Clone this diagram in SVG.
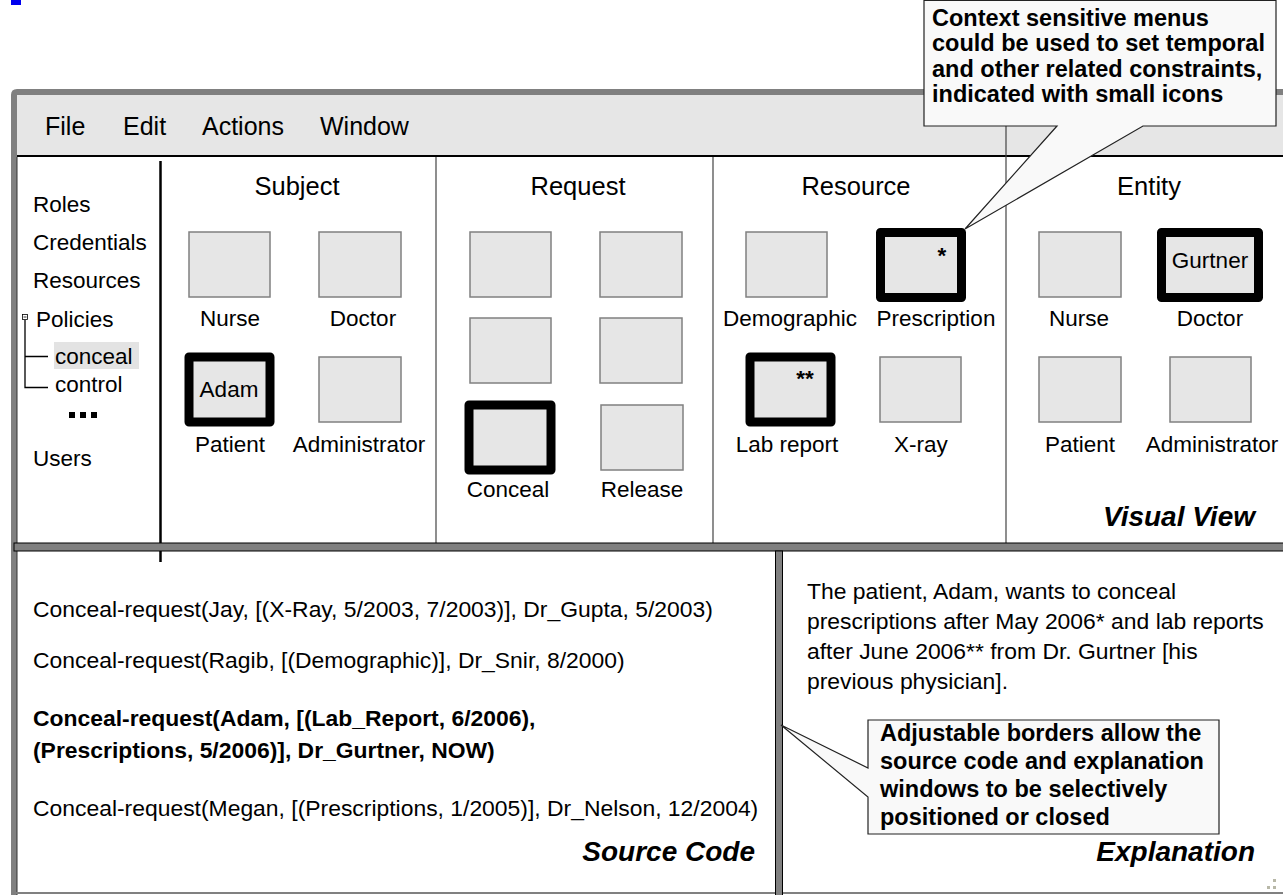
<svg xmlns="http://www.w3.org/2000/svg" width="1283" height="895" viewBox="0 0 1283 895">
  <style>
    text { font-family: "Liberation Sans", Arial, sans-serif; fill: #000; }
    .menu { font-size: 25px; }
    .side { font-size: 22.5px; }
    .head { font-size: 25.5px; text-anchor: middle; }
    .lbl { font-size: 22.5px; text-anchor: middle; }
    .code { font-size: 22.9px; }
    .bold { font-weight: bold; }
    .pane { font-size: 28px; font-weight: bold; font-style: italic; text-anchor: end; }
    .note { font-size: 23.5px; font-weight: bold; }
    .box { fill: #e6e6e6; stroke: #808080; stroke-width: 1.5; }
    .sel { fill: #e6e6e6; stroke: #000; stroke-width: 9; stroke-linejoin: round; }
    .col { stroke: #444; stroke-width: 1.2; }
    .bar { fill: #808080; stroke: #000; stroke-width: 1; }
    .callout { fill: #f9f9f9; stroke: #222; stroke-width: 1.2; }
  </style>

  <rect width="1283" height="895" fill="#fff"/>
  <rect x="11" y="0" width="10" height="5" fill="#0000ee"/>

  <!-- application window frame -->
  <g id="window">
    <path d="M11,895 V95 Q11,89 17,89 H1283 V95 H17 V895 Z" fill="#808080"/>
    <line x1="17" y1="157" x2="17" y2="895" stroke="#333" stroke-width="1"/>
    <rect x="11" y="892" width="1272" height="2" fill="#808080"/>
    <rect x="17" y="95" width="1266" height="60" fill="#e6e6e6"/>
    <rect x="17" y="155" width="1266" height="2" fill="#000"/>
  </g>

  <g id="menu">
    <text class="menu" x="45" y="135">File</text>
    <text class="menu" x="123" y="135">Edit</text>
    <text class="menu" x="202" y="135">Actions</text>
    <text class="menu" x="320" y="135">Window</text>
  </g>

  <!-- pane dividers -->
  <g id="dividers">
    <line x1="160.5" y1="161" x2="160.5" y2="562" stroke="#000" stroke-width="2.5"/>
    <line class="col" x1="436" y1="157" x2="436" y2="543"/>
    <line class="col" x1="713" y1="157" x2="713" y2="543"/>
    <line class="col" x1="1006" y1="95" x2="1006" y2="543"/>
    <rect class="bar" x="14" y="543" width="1275" height="8"/>
    <rect class="bar" x="775.5" y="551" width="7" height="350"/>
  </g>

  <!-- navigation tree -->
  <g id="tree">
    <text class="side" x="33" y="212">Roles</text>
    <text class="side" x="33" y="250">Credentials</text>
    <text class="side" x="33" y="288">Resources</text>
    <rect x="22.5" y="314.5" width="5" height="5" fill="#fff" stroke="#000" stroke-width="0.8"/>
    <line x1="23.5" y1="317" x2="26.5" y2="317" stroke="#000" stroke-width="0.8"/>
    <text class="side" x="36" y="327">Policies</text>
    <path d="M25,320 V387.5 H48 M25,356.5 H48" fill="none" stroke="#000" stroke-width="1.3"/>
    <rect x="54" y="342" width="85" height="27" fill="#e3e3e3"/>
    <text class="side" x="55" y="364">conceal</text>
    <text class="side" x="55" y="392">control</text>
    <rect x="69" y="412" width="6" height="6" fill="#000"/>
    <rect x="80" y="412" width="6" height="6" fill="#000"/>
    <rect x="91" y="412" width="6" height="6" fill="#000"/>
    <text class="side" x="33" y="466">Users</text>
  </g>

  <!-- Subject column -->
  <g id="subject">
    <text class="head" x="297" y="195">Subject</text>
    <rect class="box" x="189" y="232" width="81" height="65"/>
    <text class="lbl" x="230" y="326">Nurse</text>
    <rect class="box" x="319" y="232" width="82" height="65"/>
    <text class="lbl" x="363" y="326">Doctor</text>
    <rect class="sel" x="189" y="357" width="81" height="65"/>
    <text class="lbl" x="229" y="397">Adam</text>
    <text class="lbl" x="230" y="452">Patient</text>
    <rect class="box" x="319" y="357" width="82" height="65"/>
    <text class="lbl" x="359" y="452">Administrator</text>
  </g>

  <!-- Request column -->
  <g id="request">
    <text class="head" x="578" y="195">Request</text>
    <rect class="box" x="470" y="232" width="81" height="65"/>
    <rect class="box" x="600" y="232" width="82" height="65"/>
    <rect class="box" x="470" y="318" width="81" height="65"/>
    <rect class="box" x="600" y="318" width="82" height="65"/>
    <rect class="sel" x="469" y="405" width="82" height="65"/>
    <text class="lbl" x="508" y="497">Conceal</text>
    <rect class="box" x="601" y="405" width="82" height="65"/>
    <text class="lbl" x="642" y="497">Release</text>
  </g>

  <!-- Resource column -->
  <g id="resource">
    <text class="head" x="856" y="195">Resource</text>
    <rect class="box" x="746" y="232" width="81" height="65"/>
    <text class="lbl" x="790" y="326">Demographic</text>
    <rect class="sel" x="880.5" y="232.5" width="81" height="65"/>
    <text class="lbl bold" x="942" y="263" font-size="24">*</text>
    <text class="lbl" x="936" y="326">Prescription</text>
    <rect class="sel" x="750" y="357" width="81" height="65"/>
    <text class="lbl bold" x="805" y="386" font-size="24">**</text>
    <text class="lbl" x="787" y="452">Lab report</text>
    <rect class="box" x="880" y="357" width="81" height="65"/>
    <text class="lbl" x="921" y="452">X-ray</text>
  </g>

  <!-- Entity column -->
  <g id="entity">
    <text class="head" x="1149" y="195">Entity</text>
    <rect class="box" x="1039" y="232" width="82" height="65"/>
    <text class="lbl" x="1079" y="326">Nurse</text>
    <rect class="sel" x="1161.5" y="232.5" width="97" height="65"/>
    <text class="lbl" x="1210" y="268">Gurtner</text>
    <text class="lbl" x="1210" y="326">Doctor</text>
    <rect class="box" x="1039" y="357" width="82" height="65"/>
    <text class="lbl" x="1080" y="452">Patient</text>
    <rect class="box" x="1170" y="357" width="81" height="65"/>
    <text class="lbl" x="1212" y="452">Administrator</text>
    <text class="pane" x="1255" y="526">Visual View</text>
  </g>

  <!-- source code pane -->
  <g id="source">
    <text class="code" x="33" y="617">Conceal-request(Jay, [(X-Ray, 5/2003, 7/2003)], Dr_Gupta, 5/2003)</text>
    <text class="code" x="33" y="668">Conceal-request(Ragib, [(Demographic)], Dr_Snir, 8/2000)</text>
    <text class="code bold" x="33" y="726">Conceal-request(Adam, [(Lab_Report, 6/2006),</text>
    <text class="code bold" x="33" y="758">(Prescriptions, 5/2006)], Dr_Gurtner, NOW)</text>
    <text class="code" x="33" y="816">Conceal-request(Megan, [(Prescriptions, 1/2005)], Dr_Nelson, 12/2004)</text>
    <text class="pane" x="755" y="861">Source Code</text>
  </g>

  <!-- explanation pane -->
  <g id="explanation">
    <text class="code" x="807" y="599">The patient, Adam, wants to conceal</text>
    <text class="code" x="807" y="629">prescriptions after May 2006* and lab reports</text>
    <text class="code" x="807" y="659">after June 2006** from Dr. Gurtner [his</text>
    <text class="code" x="807" y="689">previous physician].</text>
    <text class="pane" x="1255" y="861">Explanation</text>
    <rect x="1273" y="879" width="3" height="3" fill="#b8b8a8"/>
    <rect x="1267" y="886" width="3" height="3" fill="#b8b8a8"/>
    <rect x="1273" y="886" width="3" height="3" fill="#b8b8a8"/>
  </g>

  <!-- annotation callouts -->
  <g id="connectors">
    <path class="callout" d="M924,0.5 H1276 V126 H1143 L965,229 L1057,126 H924 Z"/>
    <path class="callout" d="M868,720 H1219 V834 H868 V797 L781,725 L868,768 Z"/>
  </g>

  <g id="note-menus">
    <text class="note" x="932" y="26">Context sensitive menus</text>
    <text class="note" x="932" y="51">could be used to set temporal</text>
    <text class="note" x="932" y="77">and other related constraints,</text>
    <text class="note" x="932" y="102">indicated with small icons</text>
  </g>

  <g id="note-borders">
    <text class="note" x="880" y="741">Adjustable borders allow the</text>
    <text class="note" x="880" y="769">source code and explanation</text>
    <text class="note" x="880" y="797">windows to be selectively</text>
    <text class="note" x="880" y="825">positioned or closed</text>
  </g>
</svg>
